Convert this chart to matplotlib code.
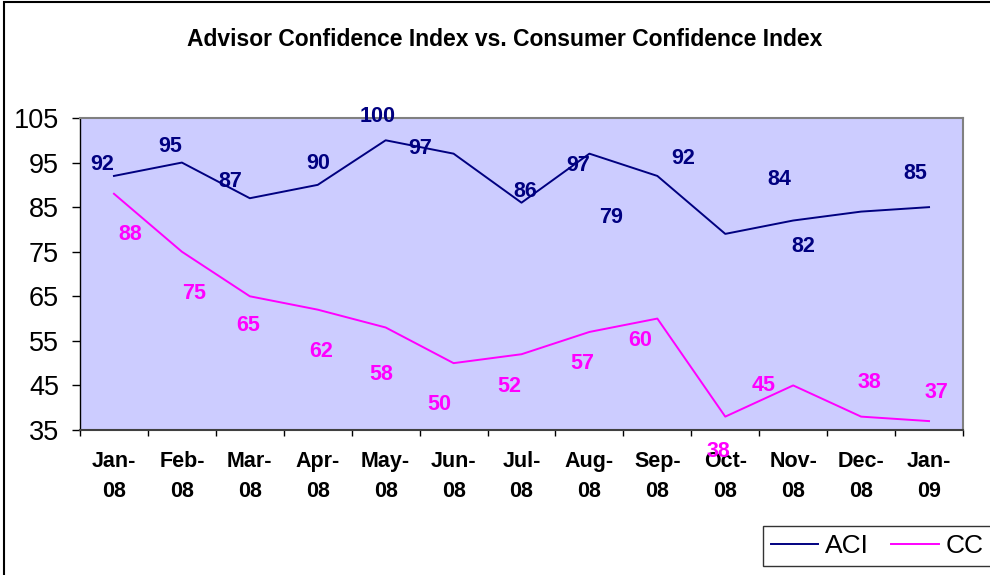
import matplotlib
matplotlib.use('Agg')
import matplotlib.pyplot as plt
from matplotlib.patches import Rectangle

# ─── Data ─────────────────────────────────────────────────────────────────────
months = ['Jan-\n08', 'Feb-\n08', 'Mar-\n08', 'Apr-\n08', 'May-\n08', 'Jun-\n08',
          'Jul-\n08', 'Aug-\n08', 'Sep-\n08', 'Oct-\n08', 'Nov-\n08', 'Dec-\n08',
          'Jan-\n09']
aci = [92, 95, 87, 90, 100, 97, 86, 97, 92, 79, 82, 84, 85]
cc  = [88, 75, 65, 62, 58, 50, 52, 57, 60, 38, 45, 38, 37]

# label offsets (pixels) relative to each point, as placed in the original
aci_off = [(-12, 11), (-12, 16), (-19, 17), (0, 21), (-8, 24), (-33, 5), (4, 11),
           (-11, -12), (26, 17), (-114, 16), (10, -26), (-82, 32), (-14, 34)]
cc_off  = [(16, -41), (12, -42), (-2, -29), (3, -42), (-4, -47), (-14, -41),
           (-12, -32), (-7, -32), (-17, -22), (-7, -35), (-30, 0), (8, 34), (7, 29)]

NAVY = '#000080'
MAGENTA = '#FF00FF'
FONT = 'Liberation Sans'

plt.rcParams['font.family'] = FONT

fig = plt.figure(figsize=(9.9, 5.75), dpi=100)
ax = fig.add_axes([80 / 990, 1 - 430 / 575, 883 / 990, 312 / 575])
ax.set_facecolor('#CCCCFF')

x = list(range(len(months)))
ax.plot(x, aci, color=NAVY, lw=1.4, label='ACI')
ax.plot(x, cc, color=MAGENTA, lw=1.4, label='CC')

for xi, v, off in zip(x, aci, aci_off):
    ax.annotate(str(v), (xi, v), xytext=off, textcoords='offset pixels',
                ha='center', va='center', color=NAVY, fontsize=15.5,
                fontweight='bold', annotation_clip=False)
for xi, v, off in zip(x, cc, cc_off):
    ax.annotate(str(v), (xi, v), xytext=off, textcoords='offset pixels',
                ha='center', va='center', color=MAGENTA, fontsize=15.5,
                fontweight='bold', annotation_clip=False)

ax.set_xlim(-0.5, len(months) - 0.5)
ax.set_ylim(35, 105)
ax.set_yticks(range(35, 106, 10))
ax.set_xticks([i - 0.5 for i in range(len(months) + 1)], minor=False)
ax.set_xticklabels([])
ax.set_xticks(x, minor=True)
ax.set_xticklabels(months, minor=True, fontsize=15.5, fontweight='bold',
                   linespacing=1.55)
ax.tick_params(axis='x', which='major', direction='out', length=4.5, width=1,
               color='black')
ax.tick_params(axis='x', which='minor', length=0, pad=15)
ax.tick_params(axis='y', direction='out', length=6, width=1, pad=9,
               labelsize=19.5)

for s in ['top', 'right']:
    ax.spines[s].set_color('#808080')
    ax.spines[s].set_linewidth(1.5)
ax.spines['left'].set_color('black')
ax.spines['left'].set_linewidth(1)
ax.spines['bottom'].set_color('#404040')
ax.spines['bottom'].set_linewidth(1.5)

fig.text(505 / 990, 1 - 40 / 575,
         'Advisor Confidence Index vs. Consumer Confidence Index',
         ha='center', va='center', fontsize=16.5, fontweight='bold')

fig.legend(loc='upper left', bbox_to_anchor=(763 / 990, 1 - 526 / 575),
           ncol=2, fontsize=19, frameon=True, fancybox=False,
           edgecolor='black', borderaxespad=0, handlelength=1.8,
           handletextpad=0.25, columnspacing=0.85, borderpad=0.3)

# chart area border
fig.patches.append(Rectangle((4 / 990, -0.2), 1.2, 1.2 - 1.5 / 575,
                             transform=fig.transFigure, fill=False,
                             edgecolor='black', lw=1.5))

fig.savefig('out.png', dpi=100)
